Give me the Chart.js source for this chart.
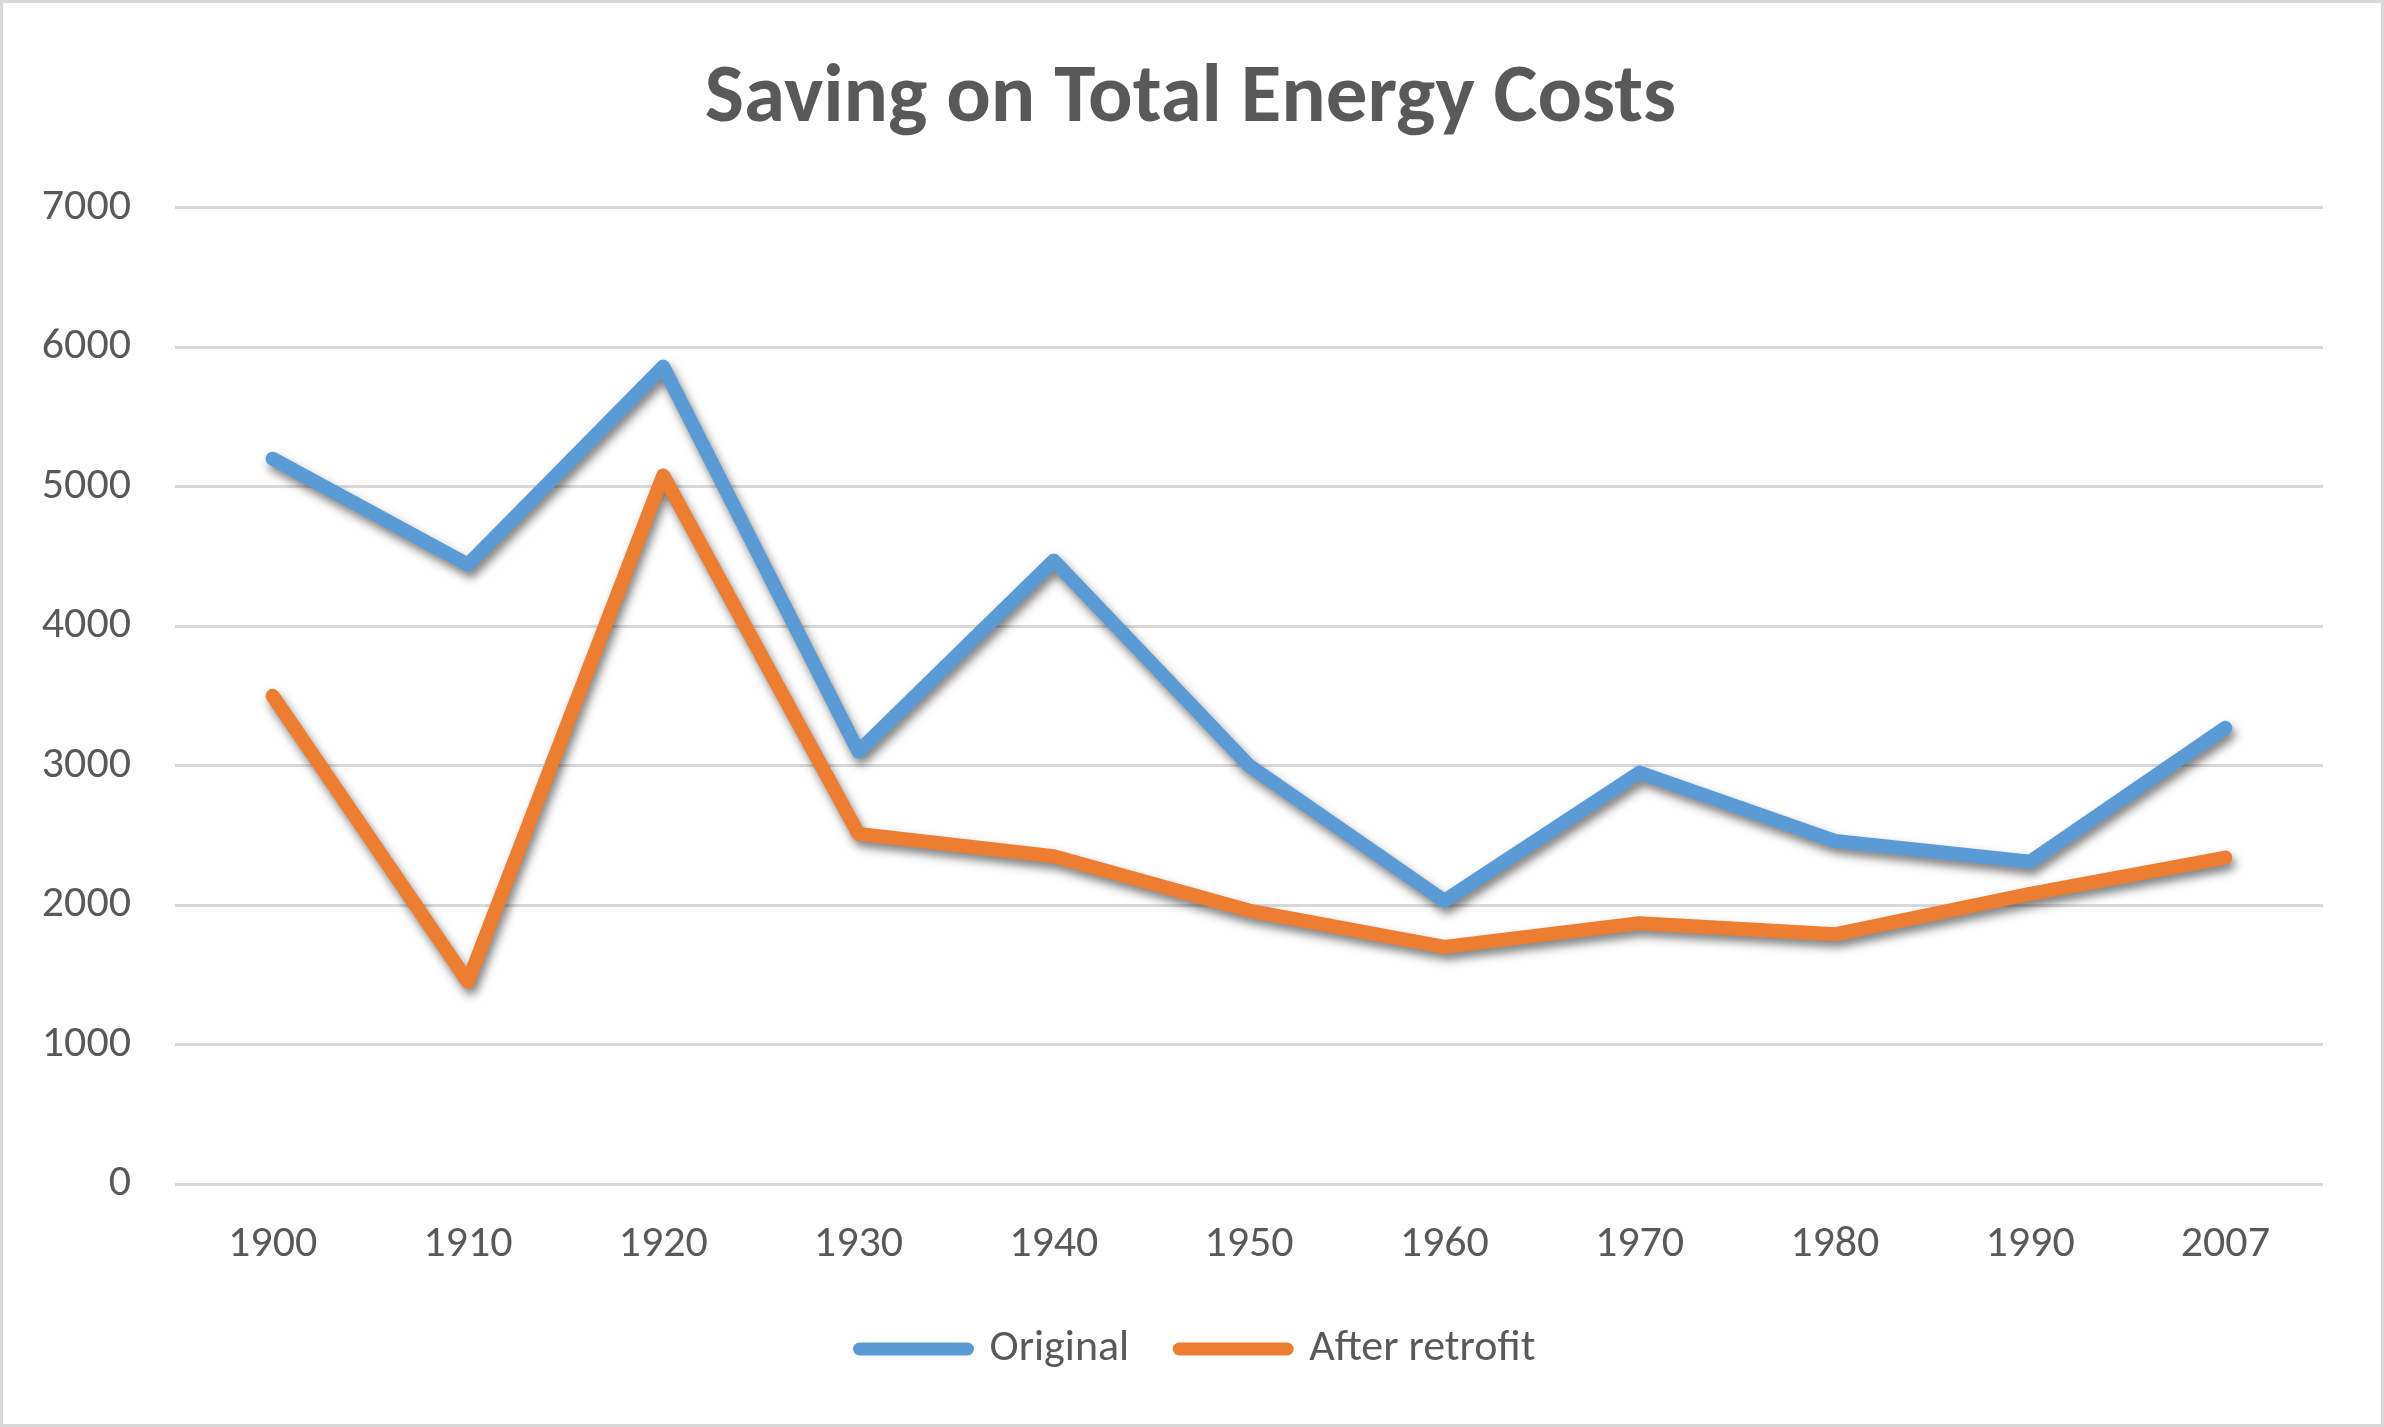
<!DOCTYPE html>
<html>
<head>
<meta charset="utf-8">
<script src="https://cdn.jsdelivr.net/npm/chart.js@4/dist/chart.umd.min.js"></script>
<style>
  html, body { margin: 0; padding: 0; background: #fff; overflow: hidden; }
  canvas { display: block; }
</style>
</head>
<body>
<canvas id="energyChart" width="2384" height="1427"></canvas>
<script>
// data
const years = ['1900', '1910', '1920', '1930', '1940', '1950', '1960', '1970', '1980', '1990', '2007'];
const original = [5200, 4440, 5860, 3100, 4470, 3000, 2030, 2950, 2460, 2310, 3270];
const afterRetrofit = [3500, 1450, 5080, 2510, 2350, 1960, 1700, 1870, 1790, 2080, 2340];
const yTicks = [0, 1000, 2000, 3000, 4000, 5000, 6000, 7000];

const textColor = '#595959';
const fontFamily = "Carlito, Lato, 'Noto Sans', sans-serif";

//white page + thin grey frame like the office chart
const framePlugin = {
  id: 'frame',
  beforeDraw(chart) {
    const ctx = chart.ctx;
    ctx.save();
    ctx.fillStyle = '#ffffff';
    ctx.fillRect(0, 0, chart.width, chart.height);
    ctx.restore();
  },
  afterDraw(chart) {
    const ctx = chart.ctx;
    ctx.save();
    ctx.strokeStyle = '#d9d9d9';
    ctx.lineWidth = 3;
    ctx.strokeRect(1.5, 1.5, chart.width - 3, chart.height - 3);
    ctx.restore();
  }
};

//title and legend are centred on the whole picture, not on width - right padding
const centerPlugin = {
  id: 'recenter',
  afterLayout(chart) {
    if (chart.titleBlock) {
      chart.titleBlock.left += 29;
      chart.titleBlock.right += 29;
    }
    if (chart.legend) {
      chart.legend.left += 36;
      chart.legend.right += 36;
    }
  }
};

//soft drop shadow under the lines
const shadowPlugin = {
  id: 'lineShadow',
  beforeDatasetsDraw(chart) {
    const ctx = chart.ctx;
    ctx.save();
    ctx.shadowColor = 'rgba(0, 0, 0, 0.5)';
    ctx.shadowBlur = 10;
    ctx.shadowOffsetX = 3;
    ctx.shadowOffsetY = 6;
  },
  afterDatasetsDraw(chart) {
    chart.ctx.restore();
  }
};

const ctx = document.getElementById('energyChart').getContext('2d');
new Chart(ctx, {
  type: 'line',
  data: {
    labels: years,
    datasets: [
      {
        label: 'Original',
        data: original,
        borderColor: '#5b9bd5',
        backgroundColor: '#5b9bd5',
        borderWidth: 14,
        borderCapStyle: 'round',
        borderJoinStyle: 'round',
        pointRadius: 0,
        pointBorderWidth: 14,
        pointBorderColor: '#5b9bd5',
        tension: 0
      },
      {
        label: 'After retrofit',
        data: afterRetrofit,
        borderColor: '#ed7d31',
        backgroundColor: '#ed7d31',
        borderWidth: 14,
        borderCapStyle: 'round',
        borderJoinStyle: 'round',
        pointRadius: 0,
        pointBorderWidth: 14,
        pointBorderColor: '#ed7d31',
        tension: 0
      }
    ]
  },
  options: {
    responsive: false,
    animation: false,
    devicePixelRatio: 1,
    layout: {
      padding: { left: 0, right: 61, top: 0, bottom: 46 }
    },
    plugins: {
      title: {
        display: true,
        text: 'Saving on Total Energy Costs',
        color: textColor,
        font: { family: fontFamily, size: 83, weight: 'bold' },
        padding: { top: 50, bottom: 58 }
      },
      legend: {
        position: 'bottom',
        labels: {
          color: textColor,
          font: { family: fontFamily, size: 44 },
          usePointStyle: true,
          pointStyle: 'line',
          pointStyleWidth: 108,
          padding: 50,
          generateLabels(chart) {
            const items = Chart.defaults.plugins.legend.labels.generateLabels(chart);
            items.forEach(item => {
              item.lineWidth = 13;
              item.lineCap = 'round';
            });
            return items;
          }
        }
      },
      tooltip: { enabled: false }
    },
    scales: {
      x: {
        offset: true,
        grid: { display: false, drawTicks: false },
        border: { display: false },
        ticks: {
          color: textColor,
          font: { family: fontFamily, size: 44 },
          padding: 35,
          maxRotation: 0
        },
        afterFit(scale) {
          scale.height = 93;
        }
      },
      y: {
        min: 0,
        max: 7000,
        afterBuildTicks(scale) {
          scale.ticks = yTicks.map(v => ({ value: v }));
        },
        grid: { color: '#d9d9d9', lineWidth: 3, drawTicks: false },
        border: { display: false },
        ticks: {
          color: textColor,
          font: { family: fontFamily, size: 44 },
          padding: 44,
          callback: (value) => String(value)
        },
        afterFit(scale) {
          scale.width = 175;
        }
      }
    }
  },
  plugins: [framePlugin, centerPlugin, shadowPlugin]
});
</script>
</body>
</html>
